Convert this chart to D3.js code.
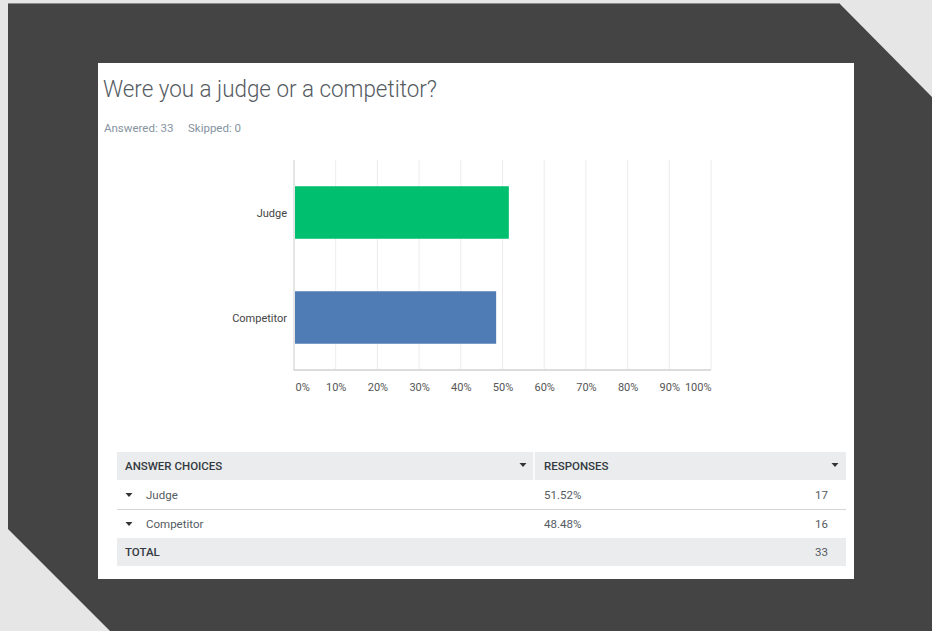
<!DOCTYPE html>
<html>
<head>
<meta charset="utf-8">
<script src="https://cdn.jsdelivr.net/npm/d3@7"></script>
<style>
	html, body { margin: 0; padding: 0; background: #e6e6e6; }
	svg { display: block; font-family: Roboto, "Open Sans", sans-serif; }
</style>
</head>
<body>
<svg id="chart" width="932" height="631"></svg>
<script>
// survey data
var choices = ['Judge', 'Competitor'];
var percents = [51.52, 48.48];
var counts = [17, 16];
var barColors = ['#00bf6f', '#507cb6'];
var xTicks = [0, 10, 20, 30, 40, 50, 60, 70, 80, 90, 100];
var answered = 33;
var skipped = 0;

var svg = d3.select('#chart');

// dark frame with cut corners
svg.append('polygon')
	.attr('points', '8,3 839,3 932,97 932,631 110,631 8,529')
	.style('fill', '#444444');
svg.append('line')
	.attr('x1', 8).attr('x2', 839).attr('y1', 3.5).attr('y2', 3.5)
	.style('stroke', '#8a8a8a').style('stroke-width', 1);

// white card
svg.append('rect')
	.attr('x', 98).attr('y', 63).attr('width', 756).attr('height', 516)
	.style('fill', '#ffffff');

svg.append('text')
	.attr('x', 103).attr('y', 97)
	.attr('textLength', 334).attr('lengthAdjust', 'spacingAndGlyphs')
	.style('font-size', '24px').style('font-weight', 300).style('fill', '#555b62')
	.text('Were you a judge or a competitor?');

svg.append('text')
	.attr('x', 104).attr('y', 132)
	.style('font-size', '11.5px').style('fill', '#8593a0')
	.text('Answered: ' + answered);
svg.append('text')
	.attr('x', 188).attr('y', 132)
	.style('font-size', '11.5px').style('fill', '#8593a0')
	.text('Skipped: ' + skipped);

// bar chart
var x = d3.scaleLinear().domain([0, 100]).range([294, 711]);
var y = d3.scaleBand().domain(choices).range([160, 370]).paddingInner(0.5).paddingOuter(0.25);

var plot = svg.append('g').attr('id', 'plot');

plot.selectAll('line.grid')
	.data(xTicks.slice(1))
	.enter().append('line')
	.attr('class', 'grid')
	.attr('x1', function(d) { return x(d); })
	.attr('x2', function(d) { return x(d); })
	.attr('y1', 160).attr('y2', 370)
	.style('stroke', '#ececec').style('stroke-width', 1);

plot.append('line')
	.attr('x1', x(0)).attr('x2', x(0)).attr('y1', 160).attr('y2', 371)
	.style('stroke', '#dcdcdc').style('stroke-width', 1.5);
plot.append('line')
	.attr('x1', x(0)).attr('x2', x(100)).attr('y1', 370).attr('y2', 370)
	.style('stroke', '#dcdcdc').style('stroke-width', 2);

plot.selectAll('rect.bar')
	.data(choices)
	.enter().append('rect')
	.attr('class', 'bar')
	.attr('x', x(0) + 1)
	.attr('y', function(d) { return y(d); })
	.attr('width', function(d, i) { return x(percents[i]) - x(0) - 1; })
	.attr('height', y.bandwidth())
	.style('fill', function(d, i) { return barColors[i]; });

plot.selectAll('text.cat')
	.data(choices)
	.enter().append('text')
	.attr('class', 'cat')
	.attr('x', 287)
	.attr('y', function(d) { return y(d) + y.bandwidth() / 2 + 4; })
	.attr('text-anchor', 'end')
	.style('font-size', '11px').style('fill', '#444')
	.text(function(d) { return d; });

var xAxis = d3.axisBottom(x).tickValues(xTicks).tickSize(0).tickPadding(0)
	.tickFormat(function(d) { return d + '%'; });
var axisG = plot.append('g')
	.attr('transform', 'translate(0,383)')
	.call(xAxis);
axisG.select('.domain').remove();
axisG.selectAll('text')
	.style('font-family', 'Roboto, sans-serif')
	.style('font-size', '11px').style('fill', '#555')
	.attr('text-anchor', function(d) { return d == 0 ? 'start' : (d == 100 ? 'end' : 'middle'); })
	.attr('dx', function(d) { return d == 0 ? 1 : 0; });

// summary table
var table = svg.append('g').attr('id', 'table');
var left = 117, right = 846, divider = 534;

function caret(cx, cy) {
	table.append('path')
		.attr('d', 'M' + (cx - 3.5) + ',' + (cy - 2) + ' L' + (cx + 3.5) + ',' + (cy - 2) + ' L' + cx + ',' + (cy + 2) + ' Z')
		.style('fill', '#333');
}

table.append('rect')
	.attr('x', left).attr('y', 452).attr('width', right - left).attr('height', 28)
	.style('fill', '#ebeced');
table.append('line')
	.attr('x1', divider).attr('x2', divider).attr('y1', 452).attr('y2', 480)
	.style('stroke', '#ffffff').style('stroke-width', 1.5);
table.append('text')
	.attr('x', 125).attr('y', 470)
	.style('font-size', '11.5px').style('font-weight', 500).style('fill', '#333a41')
	.text('ANSWER CHOICES');
caret(523, 465);
table.append('text')
	.attr('x', 544).attr('y', 470)
	.style('font-size', '11.5px').style('font-weight', 500).style('fill', '#333a41')
	.text('RESPONSES');
caret(835, 465);

var rowTop = 480, rowH = 29;
choices.forEach(function(c, i) {
	var top = rowTop + i * rowH;
	var base = top + 19;
	caret(129, base - 4);
	table.append('text')
		.attr('x', 146).attr('y', base)
		.style('font-size', '11.5px').style('fill', '#555b62')
		.text(c);
	table.append('text')
		.attr('x', 544).attr('y', base)
		.style('font-size', '11.5px').style('fill', '#555b62')
		.text(percents[i].toFixed(2) + '%');
	table.append('text')
		.attr('x', 828).attr('y', base)
		.attr('text-anchor', 'end')
		.style('font-size', '11.5px').style('fill', '#555b62')
		.text(counts[i]);
	if (i < choices.length - 1) {
		table.append('line')
			.attr('x1', left).attr('x2', right).attr('y1', top + rowH + 0.5).attr('y2', top + rowH + 0.5)
			.style('stroke', '#d5d5d5').style('stroke-width', 1);
	}
});

var totalTop = rowTop + choices.length * rowH;
table.append('rect')
	.attr('x', left).attr('y', totalTop).attr('width', right - left).attr('height', 28)
	.style('fill', '#ebeced');
table.append('text')
	.attr('x', 125).attr('y', totalTop + 18)
	.style('font-size', '11.5px').style('font-weight', 500).style('fill', '#333a41')
	.text('TOTAL');
table.append('text')
	.attr('x', 828).attr('y', totalTop + 18)
	.attr('text-anchor', 'end')
	.style('font-size', '11.5px').style('fill', '#555b62')
	.text(d3.sum(counts));
</script>
</body>
</html>
